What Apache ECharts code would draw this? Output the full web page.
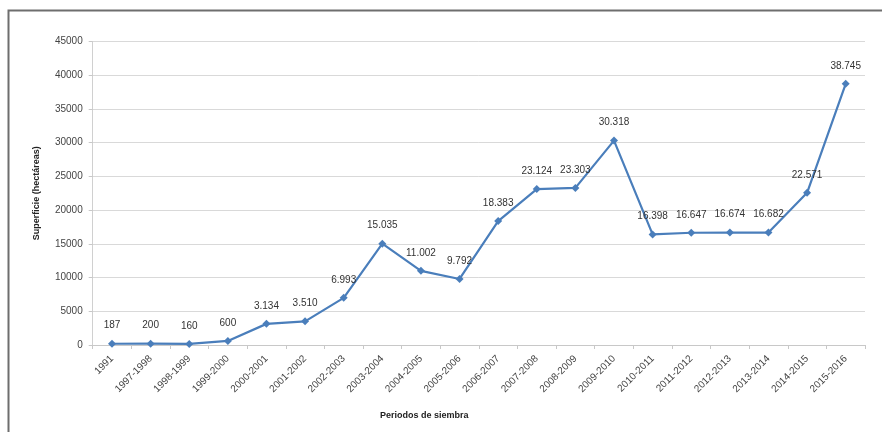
<!DOCTYPE html>
<html>
<head>
<meta charset="utf-8">
<script src="https://cdn.jsdelivr.net/npm/echarts@6/dist/echarts.min.js"></script>
<style>
  html, body { margin: 0; padding: 0; background: #ffffff; }
  #chart { width: 882px; height: 435px; }
</style>
</head>
<body>
<div id="chart"></div>
<script>
// Periodos de siembra
const periodos = [
  '1991', '1997-1998', '1998-1999', '1999-2000', '2000-2001', '2001-2002',
  '2002-2003', '2003-2004', '2004-2005', '2005-2006', '2006-2007', '2007-2008',
  '2008-2009', '2009-2010', '2010-2011', '2011-2012', '2012-2013', '2013-2014',
  '2014-2015', '2015-2016'
];

// Superficie sembrada (hectáreas)
const superficie = [
  187, 200, 160, 600, 3134, 3510, 6993, 15035, 11002, 9792, 18383, 23124,
  23303, 30318, 16398, 16647, 16674, 16682, 22571, 38745
];

// Marcas del eje vertical
const yMin = 0;
const yMax = 45000;
const yStep = 5000;

// Separador de miles con punto
function fmtMiles(v) {
  return String(v).replace(/\B(?=(\d{3})+(?!\d))/g, '.');
}

const chart = echarts.init(document.getElementById('chart'), null, { renderer: 'canvas' });

chart.setOption({
  backgroundColor: '#ffffff',
  animation: false,
  graphic: [
    {
      type: 'polyline',
      shape: { points: [[8.5, 432], [8.5, 10.5], [882, 10.5]] },
      style: { stroke: '#6e6e6e', lineWidth: 2, fill: null },
      silent: true
    },
    {
      type: 'text',
      left: 380,
      top: 411,
      style: {
        text: 'Periodos de siembra',
        font: 'bold 9px "Liberation Sans"',
        fill: '#222'
      },
      silent: true
    }
  ],
  grid: { left: 92.7, right: 17, top: 41.6, bottom: 90 },
  xAxis: {
    type: 'category',
    data: periodos,
    boundaryGap: true,
    axisLine: { lineStyle: { color: '#c8c8c8', width: 1 } },
    axisTick: { show: true, alignWithLabel: false, length: 4, lineStyle: { color: '#c8c8c8' } },
    axisLabel: { rotate: 45, interval: 0, fontFamily: 'Liberation Sans', fontSize: 10, color: '#444', margin: 12 },
    splitLine: { show: false }
  },
  yAxis: {
    type: 'value',
    min: yMin,
    max: yMax,
    interval: yStep,
    name: 'Superficie (hectáreas)',
    nameLocation: 'middle',
    nameGap: 52,
    nameTextStyle: { fontFamily: 'Liberation Sans', fontSize: 9, fontWeight: 'bold', color: '#222' },
    axisLine: { show: true, lineStyle: { color: '#d0d0d0', width: 1 } },
    axisTick: { show: true, length: 4, lineStyle: { color: '#c8c8c8' } },
    axisLabel: { fontFamily: 'Liberation Sans', fontSize: 10, color: '#444', margin: 10, formatter: v => String(v) },
    splitLine: { lineStyle: { color: '#d9d9d9', width: 1 } }
  },
  series: [
    {
      type: 'line',
      data: superficie,
      symbol: 'diamond',
      symbolSize: 8,
      lineStyle: { color: '#4a7ebb', width: 2.2 },
      itemStyle: { color: '#4a7ebb' },
      label: {
        show: true,
        position: 'top',
        distance: 9,
        fontFamily: 'Liberation Sans',
        fontSize: 10,
        color: '#333',
        formatter: p => fmtMiles(p.value)
      }
    }
  ]
});
</script>
</body>
</html>
